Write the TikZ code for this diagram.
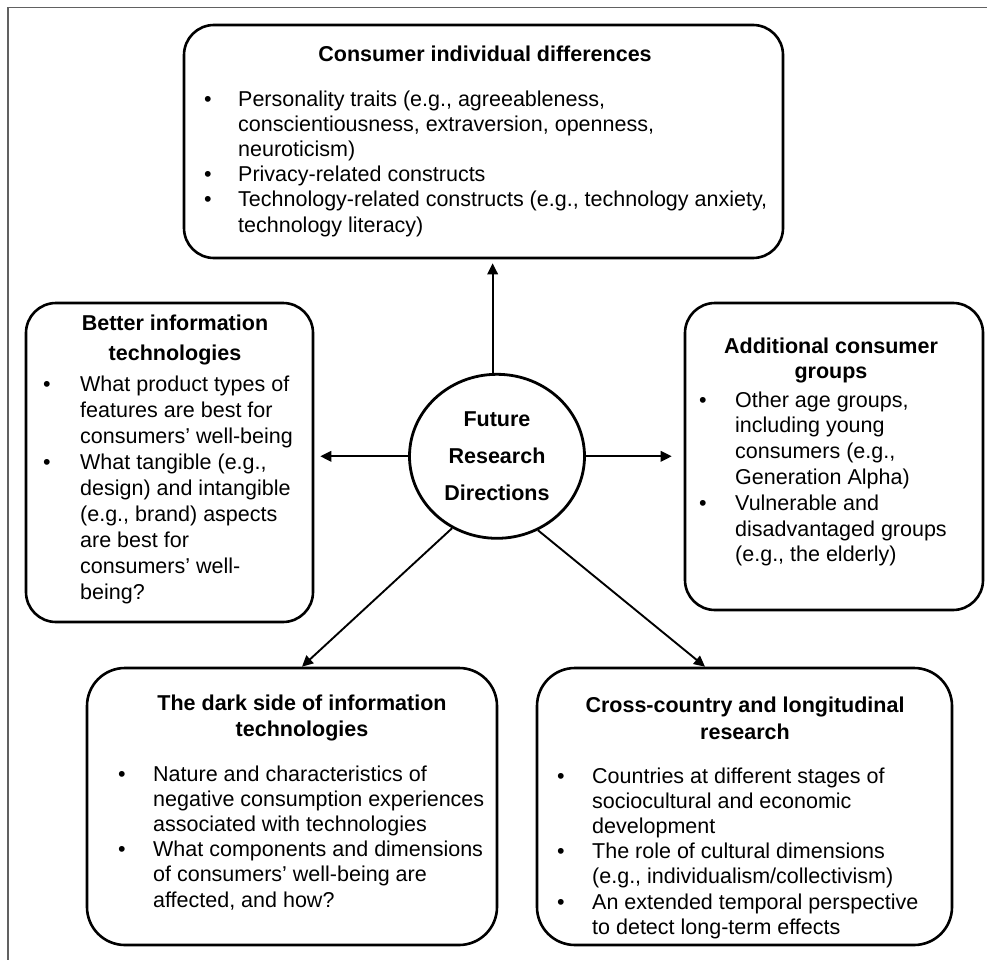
\documentclass[tikz,border=0pt]{standalone}
\usepackage{fontspec}
\setmainfont{Liberation Sans}
\usetikzlibrary{arrows.meta,calc,shapes.geometric}

% one node per printed line: name, x, first baseline, line step, lines
\newcommand\textlines[5]{%
  \foreach \ln [count=\k from 0] in {#5}
    \node[body] (#1-\k) at (#2, #3+\k*#4) {\ln};}

\begin{document}
\begin{tikzpicture}[x=1pt,y=-1pt,
  box/.style={draw=black, line width=2.6pt, rounded corners=30pt, inner sep=0pt},
  hub/.style={draw=black, line width=2.8pt, ellipse, inner sep=0pt,
    minimum width=175pt, minimum height=164pt, align=center,
    font=\fontsize{21.5}{37}\selectfont\bfseries},
  arr/.style={line width=1.9pt, -{Triangle[length=11pt,width=10.5pt]}},
  body/.style={font=\fontsize{21.5}{25}\selectfont, inner sep=0pt, anchor=base west},
  head/.style={font=\fontsize{21.5}{25}\selectfont\bfseries, inner sep=0pt, anchor=base},
  dot/.style={font=\fontsize{21.5}{25}\selectfont, inner sep=0pt, anchor=base},
  frameline/.style={draw=black!62, line width=1.4pt}
]
\useasboundingbox (0,0) rectangle (987,960);

% page frame (top and left edges)
\draw[frameline] (8,960) -- (8,7.3) -- (987,7.3);

% boxes
\node[box, minimum width=599pt, minimum height=233pt] (top) at (483.5,141.5) {};
\node[box, minimum width=287pt, minimum height=319pt] (left) at (169.5,462.5) {};
\node[box, minimum width=298pt, minimum height=307pt] (right) at (834,456.5) {};
\node[box, rounded corners=38pt, minimum width=410pt, minimum height=277pt] (bl) at (292,806.5) {};
\node[box, rounded corners=38pt, minimum width=415pt, minimum height=277pt] (br) at (744.5,806.5) {};

% centre
\node[hub] (hub) at (497,456.3) {Future\\Research\\Directions};

% connectors
\draw[arr, shorten >=4pt] (hub.93) -- (hub.93 |- top.south);
\draw[arr, shorten >=6pt] (hub.west) -- (hub.west -| left.east);
\draw[arr, shorten >=12pt] (hub.east) -- (hub.east -| right.west);
\draw[arr] (hub.-122) -- ($(bl.north)+(10,0)$);
\draw[arr] (hub.-61) -- ($(br.north)+(-39.5,0)$);

% top box
\node[head] (top-h) at (485,62) {Consumer individual differences};
\textlines{top}{238}{107}{25}{{Personality traits (e.g., agreeableness,},
  {conscientiousness, extraversion, openness,},{neuroticism)},
  {Privacy-related constructs},
  {Technology-related constructs (e.g., technology anxiety,},{technology literacy)}}
\node[dot] (top-b0) at (208,107) {•};
\node[dot] (top-b1) at (208,182) {•};
\node[dot] (top-b2) at (208,207) {•};

% left box
\node[head] (left-h0) at (175,330) {Better information};
\node[head] (left-h1) at (175,360) {technologies};
\textlines{left}{80}{391}{26}{{What product types of},{features are best for},
  {consumers’ well-being},{What tangible (e.g.,},{design) and intangible},
  {(e.g., brand) aspects},{are best for},{consumers’ well-},{being?}}
\node[dot] (left-b0) at (47,391) {•};
\node[dot] (left-b1) at (47,469) {•};

% right box
\node[head] (right-h0) at (831,353) {Additional consumer};
\node[head] (right-h1) at (831,378) {groups};
\textlines{right}{735}{407}{25.8}{{Other age groups,},{including young},
  {consumers (e.g.,},{Generation Alpha)},{Vulnerable and},
  {disadvantaged groups},{(e.g., the elderly)}}
\node[dot] (right-b0) at (703,407) {•};
\node[dot] (right-b1) at (703,510.2) {•};

% bottom left box
\node[head] (bl-h0) at (302,710) {The dark side of information};
\node[head] (bl-h1) at (302,736) {technologies};
\textlines{bl}{153}{781}{25.2}{{Nature and characteristics of},
  {negative consumption experiences},{associated with technologies},
  {What components and dimensions},{of consumers’ well-being are},
  {affected, and how?}}
\node[dot] (bl-b0) at (122,781) {•};
\node[dot] (bl-b1) at (122,856.6) {•};

% bottom right box
\node[head] (br-h0) at (745,712.5) {Cross-country and longitudinal};
\node[head] (br-h1) at (745,739) {research};
\textlines{br}{592}{783}{25.2}{{Countries at different stages of},
  {sociocultural and economic},{development},
  {The role of cultural dimensions},{(e.g., individualism/collectivism)},
  {An extended temporal perspective},{to detect long-term effects}}
\node[dot] (br-b0) at (561,783) {•};
\node[dot] (br-b1) at (561,858.6) {•};
\node[dot] (br-b2) at (561,909) {•};
\end{tikzpicture}
\end{document}
